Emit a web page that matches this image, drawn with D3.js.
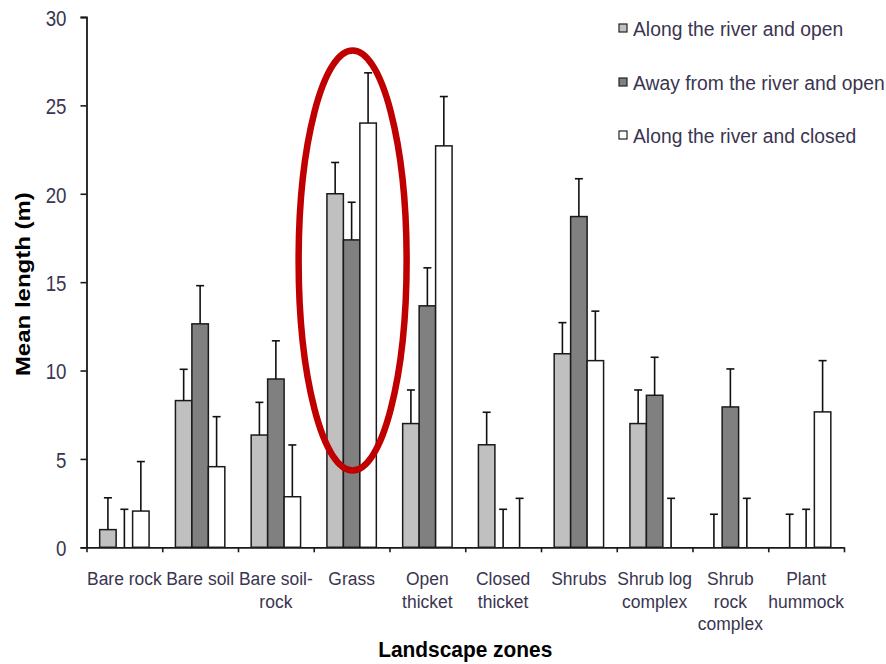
<!DOCTYPE html>
<html>
<head>
<meta charset="utf-8">
<script src="https://cdn.jsdelivr.net/npm/d3@7"></script>
<style>
  body { margin: 0; background: #fff; }
  text { font-family: "Liberation Sans", Arial, sans-serif; }
</style>
</head>
<body>
<script>
const categories = ["Bare rock", "Bare soil", "Bare soil-rock", "Grass", "Open thicket",
  "Closed thicket", "Shrubs", "Shrub log complex", "Shrub rock complex", "Plant hummock"];
const categoryLines = [["Bare rock"], ["Bare soil"], ["Bare soil-", "rock"], ["Grass"],
  ["Open", "thicket"], ["Closed", "thicket"], ["Shrubs"], ["Shrub log", "complex"],
  ["Shrub", "rock", "complex"], ["Plant", "hummock"]];
const seriesNames = ["Along the river and open", "Away from the river and open", "Along the river and closed"];

const alongOpen = [1.0, 8.3, 6.35, 20.0, 7.0, 5.8, 10.95, 7.0, 0, 0];
const alongOpenErr = [1.8, 1.77, 1.85, 1.77, 1.9, 1.84, 1.76, 1.9, 1.87, 1.87];
const awayOpen = [0, 12.64, 9.52, 17.39, 13.66, 0, 18.71, 8.6, 7.94, 0];
const awayOpenErr = [2.15, 2.16, 2.16, 2.13, 2.15, 2.15, 2.14, 2.15, 2.15, 2.15];
const alongClosed = [2.05, 4.56, 2.86, 24.0, 22.71, 0, 10.56, 0, 0, 7.66];
const alongClosedErr = [2.8, 2.83, 2.93, 2.84, 2.79, 2.77, 2.8, 2.77, 2.77, 2.9];

const yTicks = [0, 5, 10, 15, 20, 25, 30];
const fills = ["#c0c0c0", "#808080", "#ffffff"];

const width = 886;
const height = 664;
const plotLeft = 86.5, plotRight = 844, plotTop = 17, plotBottom = 547.3;

const values = [alongOpen, awayOpen, alongClosed];
const errs = [alongOpenErr, awayOpenErr, alongClosedErr];
const rows = [];
categories.forEach((c, i) => {
  seriesNames.forEach((s, j) => {
    rows.push({ cat: c, series: s, idx: j, value: values[j][i], err: errs[j][i] });
  });
});

const svg = d3.select("body").append("svg")
  .attr("width", width)
  .attr("height", height);

const x = d3.scaleBand().domain(categories).range([plotLeft, plotRight]).paddingInner(0).paddingOuter(0);
const xInner = d3.scaleBand().domain(seriesNames).range([0, x.bandwidth()]).paddingInner(0).paddingOuter(0.8);
const xEdges = d3.scaleLinear().domain([0, categories.length]).range([plotLeft, plotRight]);
const y = d3.scaleLinear().domain([0, 30]).range([plotBottom, plotTop]);

// bars
svg.append("g")
  .selectAll("rect")
  .data(rows)
  .enter()
  .append("rect")
  .attr("x", (d) => x(d.cat) + xInner(d.series))
  .attr("y", (d) => y(d.value))
  .attr("width", xInner.bandwidth())
  .attr("height", (d) => y(0) - y(d.value))
  .attr("fill", (d) => fills[d.idx])
  .attr("stroke", "#1a1a1a")
  .attr("stroke-width", 1.5);

// error bars (upper only)
const eb = svg.append("g").attr("stroke", "#111").attr("stroke-width", 1.6);
eb.selectAll("line.v")
  .data(rows)
  .enter()
  .append("line")
  .attr("class", "v")
  .attr("x1", (d) => x(d.cat) + xInner(d.series) + xInner.bandwidth() / 2)
  .attr("x2", (d) => x(d.cat) + xInner(d.series) + xInner.bandwidth() / 2)
  .attr("y1", (d) => y(d.value))
  .attr("y2", (d) => y(d.value + d.err));
eb.selectAll("line.c")
  .data(rows)
  .enter()
  .append("line")
  .attr("class", "c")
  .attr("x1", (d) => x(d.cat) + xInner(d.series) + xInner.bandwidth() / 2 - 4)
  .attr("x2", (d) => x(d.cat) + xInner(d.series) + xInner.bandwidth() / 2 + 4)
  .attr("y1", (d) => y(d.value + d.err))
  .attr("y2", (d) => y(d.value + d.err));

// y axis
const yAxis = d3.axisLeft(y).tickValues(yTicks).tickSize(6).tickSizeOuter(6);
const gy = svg.append("g")
  .attr("transform", `translate(${plotLeft}, 0)`)
  .call(yAxis);
gy.select(".domain").attr("stroke", "#1a1a1a").attr("stroke-width", 1.8);
gy.selectAll(".tick line").attr("stroke", "#1a1a1a").attr("stroke-width", 1.6);
gy.selectAll(".tick text")
  .attr("font-size", 22)
  .attr("font-family", "Liberation Sans, Arial, sans-serif")
  .attr("fill", "#3a3550")
  .attr("x", -20 / 0.85)
  .attr("dy", "0.38em")
  .attr("transform", "scale(0.85,1)");

// x axis: boundary ticks
const xTickAxis = d3.axisBottom(xEdges).tickValues(d3.range(categories.length + 1)).tickSize(5).tickSizeOuter(0).tickFormat("");
const gx = svg.append("g")
  .attr("transform", `translate(0, ${plotBottom})`)
  .call(xTickAxis);
gx.select(".domain").attr("stroke", "#1a1a1a").attr("stroke-width", 1.8);
gx.selectAll(".tick line").attr("stroke", "#1a1a1a").attr("stroke-width", 1.6);

// x axis: category labels
const xLabelAxis = d3.axisBottom(x).tickSize(0).tickSizeOuter(0);
const gxl = svg.append("g")
  .attr("transform", `translate(0, ${plotBottom})`)
  .call(xLabelAxis);
gxl.select(".domain").remove();
gxl.selectAll(".tick text").each(function (d, i) {
  const t = d3.select(this);
  t.text(null)
    .attr("y", 0)
    .attr("dy", null)
    .attr("font-size", 19)
    .attr("font-family", "Liberation Sans, Arial, sans-serif")
    .attr("fill", "#3a3550")
    .attr("transform", "scale(0.92,1)");
  categoryLines[i].forEach((line, k) => {
    t.append("tspan").attr("x", 0).attr("y", 38 + k * 22.5).text(line);
  });
});

// axis titles
svg.append("text")
  .attr("transform", `translate(30, ${(plotTop + plotBottom) / 2 + 2}) rotate(-90) scale(1,0.85)`)
  .attr("text-anchor", "middle")
  .attr("font-size", 24)
  .attr("font-weight", "bold")
  .attr("fill", "#000")
  .text("Mean length (m)");

svg.append("text")
  .attr("transform", `translate(${(plotLeft + plotRight) / 2}, 657) scale(0.95,1)`)
  .attr("text-anchor", "middle")
  .attr("font-size", 22)
  .attr("font-weight", "bold")
  .attr("fill", "#000")
  .text("Landscape zones");

// legend
const legendY = [28, 82, 135];
const legend = svg.append("g");
seriesNames.forEach((s, i) => {
  legend.append("rect")
    .attr("x", 619)
    .attr("y", legendY[i] - 4)
    .attr("width", 8)
    .attr("height", 8)
    .attr("fill", fills[i])
    .attr("stroke", "#222")
    .attr("stroke-width", 1.2);
  legend.append("text")
    .attr("transform", `translate(633, ${legendY[i]}) scale(0.92,1)`)
    .attr("dy", "0.36em")
    .attr("font-size", 21)
    .attr("fill", "#3a3550")
    .text(s);
});

// highlight ellipse around Grass
const grassCenter = x("Grass") + x.bandwidth() / 2 + 1;
svg.append("ellipse")
  .attr("cx", grassCenter)
  .attr("cy", (y(28.1) + y(4.35)) / 2)
  .attr("rx", 54)
  .attr("ry", (y(4.35) - y(28.1)) / 2)
  .attr("fill", "none")
  .attr("stroke", "#c00000")
  .attr("stroke-width", 6.5);
</script>
</body>
</html>
